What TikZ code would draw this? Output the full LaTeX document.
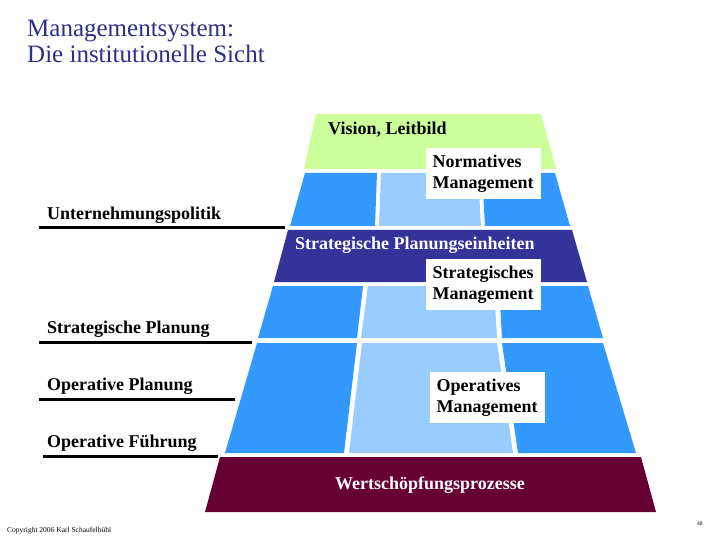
\documentclass[tikz,border=0pt]{standalone}
\usepackage{fontspec}
\setmainfont{Liberation Serif}
\definecolor{visiongreen}{HTML}{CCFF99}
\definecolor{cellblue}{HTML}{3399FF}
\definecolor{midblue}{HTML}{99CCFF}
\definecolor{spenavy}{HTML}{333399}
\definecolor{wspred}{HTML}{660033}
\definecolor{titlenavy}{HTML}{2E2E85}
\tikzset{
  lbl/.style={anchor=base west, inner sep=0pt, font=\fontsize{18}{21}\selectfont\bfseries},
  mbox/.style={fill=white, anchor=north west, text width=102pt, inner xsep=6.5pt, inner ysep=0pt,
    minimum height=51pt, align=left, font=\fontsize{18}{21}\selectfont\bfseries},
  rule/.style={line width=3pt}
}
\begin{document}
\begin{tikzpicture}[x=1pt,y=-1pt,line join=round]
\useasboundingbox (0,0) rectangle (720,540);
% title
\node[anchor=base west,inner sep=0pt,text=titlenavy,font=\fontsize{25}{27}\selectfont] (title1) at (27,37) {Managementsystem:};
\node[anchor=base west,inner sep=0pt,text=titlenavy,font=\fontsize{25}{27}\selectfont] (title2) at (27,63) {Die institutionelle Sicht};
% pyramid bands
\fill[visiongreen] (316,114) -- (541,114) -- (556,169) -- (304,169) -- cycle;
\fill[cellblue] (305,173) -- (377,173) -- (375,226) -- (290,226) -- cycle;
\fill[midblue]  (381,173) -- (478,173) -- (481,226) -- (379,226) -- cycle;
\fill[cellblue] (482,173) -- (555,173) -- (570,226) -- (485,226) -- cycle;
\fill[spenavy] (288,230) -- (572,230) -- (587,282) -- (274,282) -- cycle;
\fill[cellblue] (273,286) -- (363,286) -- (357,338) -- (258,338) -- cycle;
\fill[midblue]  (368,286) -- (494,286) -- (497,338) -- (361,338) -- cycle;
\fill[cellblue] (499,286) -- (588,286) -- (603,338) -- (502,338) -- cycle;
\fill[cellblue] (257,343) -- (357,343) -- (344,453) -- (225,453) -- cycle;
\fill[midblue]  (362,343) -- (497,343) -- (513,453) -- (349,453) -- cycle;
\fill[cellblue] (502,343) -- (603,343) -- (636,453) -- (518,453) -- cycle;
\fill[wspred] (220,457) -- (641,457) -- (656,512) -- (205,512) -- cycle;
% band texts
\node[lbl] (vision) at (328,135) {Vision, Leitbild};
\node[lbl,text=white] (spe) at (295,249) {Strategische Planungseinheiten};
\node[lbl,text=white,anchor=base] (wsp) at (430,489) {Wertschöpfungsprozesse};
% management boxes
\node[mbox] (norm) at (426,148) {Normatives\\Management};
\node[mbox] (strat) at (426,259) {Strategisches\\Management};
\node[mbox] (oper) at (430,372) {Operatives\\Management};
% left labels with rules
\foreach \t/\y/\xa/\xb [count=\i] in {Unternehmungspolitik/219/39/285,
    Strategische Planung/333/39/252, Operative Planung/390/39/235,
    Operative Führung/447/43/218}{
  \node[lbl] (lab\i) at (47,\y) {\t};
  \draw[rule] (\xa,\y+9) -- (\xb,\y+9);
}
% footer
\node[anchor=base west,inner sep=0pt,font=\fontsize{7.5}{9}\selectfont] (copy) at (7,532) {Copyright 2006 Karl Schaufelbühl};
\node[anchor=base west,inner sep=0pt,font=\fontsize{5.5}{7}\selectfont] (page) at (697,525) {48};
\end{tikzpicture}
\end{document}
